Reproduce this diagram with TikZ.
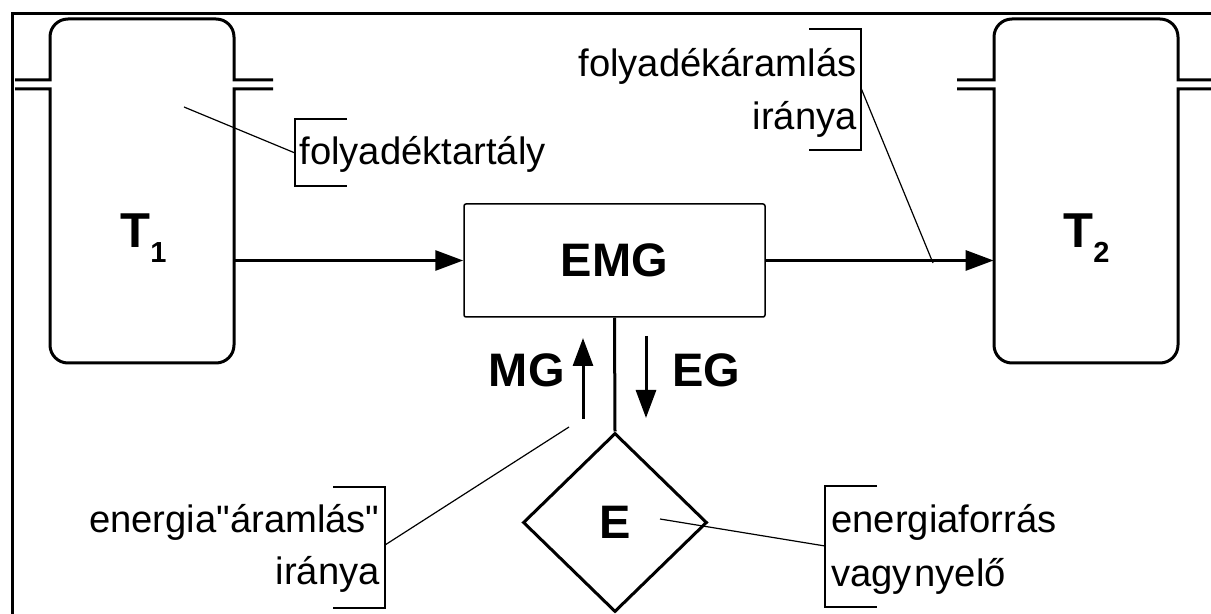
\documentclass[tikz,border=0pt]{standalone}
\usepackage{fontspec}
\setmainfont{Liberation Sans}[Ligatures=TeXOff]
\usetikzlibrary{arrows.meta,shapes.geometric}
\begin{document}
\begin{tikzpicture}[x=0.5pt,y=-0.5pt,
  heavy/.style={line width=1.5pt},
  arr/.style={line width=1.5pt,-{Triangle[length=14pt,width=10pt]}},
  leader/.style={line width=0.6pt},
  lab/.style={font=\fontsize{19.1}{22}\selectfont, inner sep=0pt},
  big/.style={font=\fontsize{23.5}{26}\selectfont\bfseries, inner sep=0pt},
  tlab/.style={font=\fontsize{24.5}{27}\selectfont\bfseries, inner sep=0pt}]
\useasboundingbox (0,0) rectangle (1211,614);
% frame
\draw[heavy] (12,614) -- (12,14) -- (1211,14);
% tanks
\foreach \a/\b/\l/\r in {50/234/15/273, 994/1178/957/1211}{
  \draw[heavy] (\l,80) -- (\a,80) -- (\a,37) .. controls (\a,27) and ({\a+8},19) .. ({\a+18},19)
     -- ({\b-18},19) .. controls ({\b-8},19) and (\b,27) .. (\b,37) -- (\b,80) -- (\r,80);
  \draw[heavy] (\l,89) -- (\a,89) -- (\a,345) .. controls (\a,355) and ({\a+8},363) .. ({\a+18},363)
     -- ({\b-18},363) .. controls ({\b-8},363) and (\b,355) .. (\b,345) -- (\b,89) -- (\r,89);
}
\node[minimum width=92pt, minimum height=172pt, inner sep=0] (T1) at (142,191) {};
\node[minimum width=92pt, minimum height=172pt, inner sep=0] (T2) at (1086,191) {};
\node[tlab, anchor=base west] (T1lab) at (120,248) {T\raisebox{-7.5pt}{\fontsize{14.5}{16}\selectfont\bfseries 1}};
\node[tlab, anchor=base west] (T2lab) at (1063,248) {T\raisebox{-7.5pt}{\fontsize{14.5}{16}\selectfont\bfseries 2}};
% EMG
\node[draw, line width=0.75pt, rounded corners=1pt, minimum width=150.5pt, minimum height=56.5pt,
      big] (EMG) at (614.5,260.5) {EMG};
% E diamond
\node[diamond, draw, line width=1.5pt, minimum width=92pt, minimum height=89.5pt, inner sep=0,
      big] (E) at (615,522.5) {E};
\draw[heavy] (EMG.south) -- (E.north);
\draw[arr] (T1.east |- EMG.west) -- (EMG.west);
\draw[arr] (EMG.east) -- (T2.west |- EMG.east);
% MG / EG
\coordinate (mg1) at (583,419); \coordinate (mg2) at (583,338);
\coordinate (eg1) at (646,336); \coordinate (eg2) at (646,418);
\draw[arr] (mg1) -- (mg2);
\draw[arr] (eg1) -- (eg2);
\node[big, anchor=base east] (MG) at (565,387) {MG};
\node[big, anchor=base west] (EG) at (672,387) {EG};
% folyadektartaly
\node[lab, anchor=base west] (ft) at (299,165) {folyadéktartály};
\draw[leader] (347,119) -- (295,119) -- (295,186) -- (347,186);
\coordinate (ftp) at (184,107); \coordinate (ftb) at (295,153);
\draw[leader] (ftp) -- (ftb);
% folyadekaramlas
\node[lab, anchor=base east] (fa1) at (857,77) {folyadékáramlás};
\node[lab, anchor=base east] (fa2) at (857,130) {iránya};
\draw[leader] (809,29) -- (861,29) -- (861,150) -- (809,150);
\coordinate (fab) at (861,88); \coordinate (fap) at (933,263);
\draw[leader] (fab) -- (fap);
% energia aramlas
\node[lab, anchor=base east] (ea1) at (380,533) {energia"áramlás"};
\node[lab, anchor=base east] (ea2) at (380,585) {iránya};
\draw[leader] (333,487) -- (385,487) -- (385,608) -- (333,608);
\coordinate (eab) at (385,545); \coordinate (eap) at (569,427);
\draw[leader] (eab) -- (eap);
% energiaforras
\node[lab, anchor=base west] (ef1) at (831,533) {energiaforrás};
\node[lab, anchor=base west] (ef2) at (831,587) {vagy\hspace{1.2pt}nyelő};
\draw[leader] (877,486) -- (825,486) -- (825,607) -- (877,607);
\coordinate (efp) at (660,519); \coordinate (efb) at (825,546);
\draw[leader] (efp) -- (efb);
\end{tikzpicture}
\end{document}
